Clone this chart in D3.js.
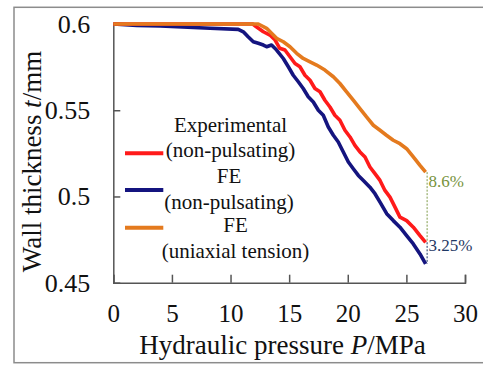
<!DOCTYPE html>
<html>
<head>
<meta charset="utf-8">
<script src="https://cdn.jsdelivr.net/npm/d3@7"></script>
<style>
  html, body { margin: 0; padding: 0; background: #fff; }
  svg text { font-family: "Liberation Serif", "Tinos", "Times New Roman", "DejaVu Serif", serif; }
</style>
</head>
<body>
<svg id="chart" width="483" height="365"></svg>
<script>
// series: hydraulic pressure (MPa) vs wall thickness (mm)
const expP = [0, 11.9, 12.2, 12.8, 13.36, 13.8, 14.2, 14.64, 15.07, 15.5, 15.92, 16.35, 16.78, 17.2, 17.63, 18.05, 18.48, 18.9, 19.33, 19.76, 20.19, 20.61, 21.04, 21.47, 21.89, 22.32, 22.75, 23.17, 23.6, 24.03, 24.45, 25.02, 25.59, 26.16, 26.64];
const expT = [0.6, 0.6, 0.5984, 0.5955, 0.5936, 0.5907, 0.5859, 0.5849, 0.581, 0.5771, 0.5752, 0.5703, 0.5674, 0.5626, 0.5607, 0.5558, 0.5519, 0.5471, 0.5442, 0.5384, 0.5345, 0.5296, 0.5258, 0.5229, 0.5171, 0.5132, 0.5093, 0.5035, 0.4996, 0.4938, 0.488, 0.486, 0.4822, 0.4773, 0.4734];

const feP = [0, 2.0, 4.0, 8.25, 10.66, 11.09, 11.5, 11.94, 12.37, 12.8, 13.08, 13.5, 13.93, 14.5, 14.93, 15.35, 15.78, 16.2, 16.63, 17.06, 17.49, 17.91, 18.34, 18.77, 19.19, 19.62, 20.05, 20.47, 20.9, 21.33, 21.89, 22.32, 22.75, 23.32, 23.88, 24.45, 25.02, 25.59, 26.16, 26.64];
const feT = [0.6, 0.5992, 0.5988, 0.5975, 0.5969, 0.5955, 0.5926, 0.5897, 0.5888, 0.5878, 0.5868, 0.5878, 0.5849, 0.58, 0.5752, 0.5703, 0.5665, 0.5626, 0.5578, 0.5548, 0.55, 0.5471, 0.5403, 0.5355, 0.5316, 0.5258, 0.52, 0.5161, 0.5122, 0.5093, 0.5054, 0.5016, 0.4967, 0.49, 0.486, 0.4822, 0.4773, 0.4725, 0.4667, 0.4609];

const uniP = [0, 12.37, 13.08, 13.5, 13.93, 14.5, 15.07, 15.64, 16.2, 16.78, 17.34, 18.05, 18.77, 19.33, 19.9, 20.47, 21.04, 21.6, 22.18, 22.75, 23.3, 23.88, 24.45, 25.02, 25.59, 26.16, 26.64];
const uniT = [0.6, 0.6, 0.5975, 0.5946, 0.5917, 0.5897, 0.5868, 0.583, 0.58, 0.5781, 0.5762, 0.5733, 0.5694, 0.5655, 0.5607, 0.5558, 0.551, 0.5461, 0.5413, 0.5384, 0.5355, 0.5326, 0.5306, 0.5277, 0.5229, 0.518, 0.5141];

const seriesNames = [["Experimental", "(non-pulsating)"], ["FE", "(non-pulsating)"], ["FE", "(uniaxial tension)"]];
const seriesColors = ["#ff1a1a", "#14147f", "#e47a1e"];

const xTicks = [0, 5, 10, 15, 20, 25, 30];
const yTicks = [0.45, 0.5, 0.55, 0.6];
const yTickLabels = ["0.45", "0.5", "0.55", "0.6"];
const gapLabels = ["8.6%", "3.25%"];

const serif = "'Liberation Serif', Tinos, 'Times New Roman', 'DejaVu Serif', serif";

const svg = d3.select("#chart");

// outer frame
svg.append("rect")
    .attr("x", 14).attr("y", 7.3)
    .attr("width", 480).attr("height", 355.4)
    .attr("fill", "none")
    .attr("stroke", "#8c8c8c")
    .attr("stroke-width", 1.5);

const plotLeft = 113.3, plotRight = 465, plotTop = 24, plotBottom = 282.7;

const x = d3.scaleLinear().domain([0, 30]).range([plotLeft, plotRight]);
const y = d3.scaleLinear().domain([0.45, 0.6]).range([plotBottom, plotTop]);

const xAxis = d3.axisBottom(x)
    .tickValues(xTicks)
    .tickSize(-8)
    .tickPadding(22);

const yAxis = d3.axisLeft(y)
    .tickValues(yTicks)
    .tickFormat((d, i) => yTickLabels[i])
    .tickSizeInner(-7)
    .tickSizeOuter(0)
    .tickPadding(23);

const gx = svg.append("g")
    .attr("transform", "translate(0," + plotBottom + ")")
    .call(xAxis);

const gy = svg.append("g")
    .attr("transform", "translate(" + plotLeft + ",0)")
    .call(yAxis);

gx.attr("font-family", serif).attr("font-size", 25);
gy.attr("font-family", serif).attr("font-size", 26);
[gx, gy].forEach(g => {
    g.selectAll("path, line").attr("stroke", "#555").attr("stroke-width", 1.5);
    g.selectAll("text").attr("fill", "#111");
});

// axis titles
const xTitle = svg.append("text")
    .attr("x", 282.5).attr("y", 353.5)
    .attr("text-anchor", "middle")
    .attr("font-family", serif)
    .attr("font-size", 27)
    .attr("fill", "#111");
xTitle.append("tspan").text("Hydraulic pressure ");
xTitle.append("tspan").attr("font-style", "italic").text("P");
xTitle.append("tspan").text("/MPa");

const yTitle = svg.append("text")
    .attr("transform", "translate(41,161.5) rotate(-90)")
    .attr("text-anchor", "middle")
    .attr("font-family", serif)
    .attr("font-size", 27)
    .attr("fill", "#111");
yTitle.append("tspan").text("Wall thickness ");
yTitle.append("tspan").attr("font-style", "italic").text("t");
yTitle.append("tspan").text("/mm");

// curves
const line = d3.line().x(d => x(d[0])).y(d => y(d[1]));
const curves = [
    { p: feP, t: feT, c: seriesColors[1] },
    { p: expP, t: expT, c: seriesColors[0] },
    { p: uniP, t: uniT, c: seriesColors[2] }
];
curves.forEach(s => {
    svg.append("path")
        .datum(d3.zip(s.p, s.t))
        .attr("d", line)
        .attr("fill", "none")
        .attr("stroke", s.c)
        .attr("stroke-width", 3.6)
        .attr("stroke-linejoin", "round");
});

// gap markers at the last point
const endP = uniP[uniP.length - 1];
const tUni = uniT[uniT.length - 1], tExp = expT[expT.length - 1], tFe = feT[feT.length - 1];
svg.append("line")
    .attr("x1", x(endP) + 1.5).attr("x2", x(endP) + 1.5)
    .attr("y1", y(tUni)).attr("y2", y(tExp))
    .attr("stroke", "#7f9a48").attr("stroke-width", 1)
    .attr("stroke-dasharray", "2,1.5");
svg.append("line")
    .attr("x1", x(endP) + 1.5).attr("x2", x(endP) + 1.5)
    .attr("y1", y(tExp)).attr("y2", y(tFe))
    .attr("stroke", "#1f3864").attr("stroke-width", 1)
    .attr("stroke-dasharray", "2,1.5");
svg.append("text")
    .attr("x", x(endP) + 3).attr("y", 187.3)
    .attr("font-family", serif)
    .attr("font-size", 17)
    .attr("fill", "#77933c")
    .text(gapLabels[0]);
svg.append("text")
    .attr("x", x(endP) + 3).attr("y", 250.7)
    .attr("font-family", serif)
    .attr("font-size", 17)
    .attr("fill", "#1f3864")
    .text(gapLabels[1]);

// legend
const legendLineY = [153.3, 190, 227.7];
const legendTextY = [[131.7, 156.7], [183.3, 209], [231.7, 257.7]];
const legendTextX = [230.5, 229, 235.5];
seriesNames.forEach((names, i) => {
    svg.append("line")
        .attr("x1", 125).attr("x2", 163.3)
        .attr("y1", legendLineY[i]).attr("y2", legendLineY[i])
        .attr("stroke", seriesColors[i])
        .attr("stroke-width", 4);
    names.forEach((n, j) => {
        svg.append("text")
            .attr("x", legendTextX[i]).attr("y", legendTextY[i][j])
            .attr("text-anchor", "middle")
            .attr("font-family", serif)
            .attr("font-size", 21)
            .attr("fill", "#111")
            .text(n);
    });
});
</script>
</body>
</html>
